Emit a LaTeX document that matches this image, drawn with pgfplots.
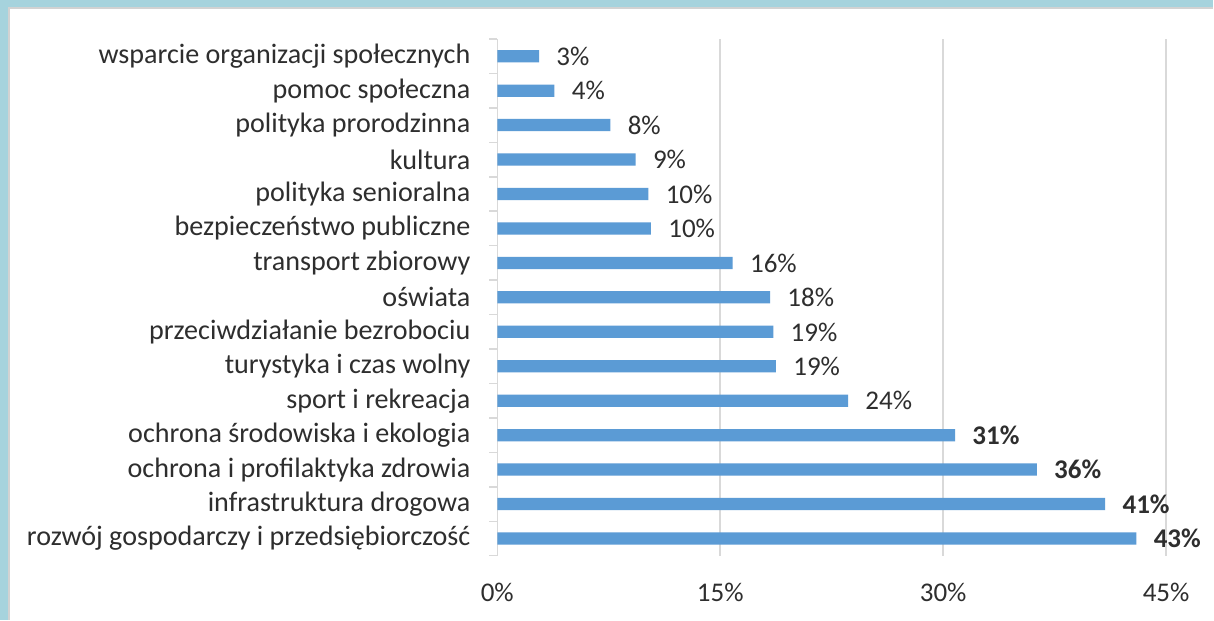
\documentclass[border=0pt]{standalone}
\usepackage{fontspec}
\setmainfont{Carlito}
\usepackage{pgfplots}
\pgfplotsset{compat=1.18}
\definecolor{barblue}{HTML}{5B9BD5}
\definecolor{txt}{HTML}{2E2E2E}
\definecolor{gridc}{HTML}{D9D9D9}
\definecolor{framec}{HTML}{A6D3DD}
\begin{document}
\begin{tikzpicture}
\fill[framec] (0pt,0pt) rectangle (607pt,310pt);
\fill[white] (4.5pt,0pt) rectangle (607pt,306pt);
\draw[gray!35, line width=0.6pt] (4.5pt,0pt) -- (4.5pt,306pt) -- (607pt,306pt);
\path[use as bounding box] (0pt,0pt) rectangle (607pt,310pt);
\begin{axis}[
  at={(248.75pt,32pt)}, anchor=south west,
  width=334.6pt, height=258.5pt, scale only axis,
  xmin=0, xmax=45, ymin=-0.5, ymax=14.5,
  xbar, bar width=6.15pt, clip=false,
  axis line style={draw=none},
  xtick={0,15,30,45}, xticklabels={0\%,15\%,30\%,45\%},
  xmajorgrids, grid style={gridc, line width=0.75pt},
  xtick style={draw=none},
  ytick={0,...,14},
  yticklabels={rozwój gospodarczy i przedsiębiorczość, infrastruktura drogowa, ochrona i profilaktyka zdrowia, ochrona środowiska i ekologia, sport i rekreacja, turystyka i czas wolny, przeciwdziałanie bezrobociu, oświata, transport zbiorowy, bezpieczeństwo publiczne, polityka senioralna, kultura, polityka prorodzinna, pomoc społeczna, wsparcie organizacji społecznych},
  minor ytick={-0.5,0.5,...,14.5},
  major tick length=0pt, minor tick length=4pt,
  tick align=outside, ytick pos=left,
  minor y tick style={gridc, line width=0.75pt},
  major y tick style={draw=none},
  every tick label/.append style={font=\fontsize{13.5}{16}\selectfont, text=txt},
  yticklabel style={inner sep=0pt, anchor=east, xshift=-13.25pt, font=\fontsize{14.05}{16}\selectfont},
  xticklabel style={inner sep=0pt, anchor=north, yshift=-13.5pt},
  nodes near coords, point meta=explicit symbolic,
  every node near coord/.append style={anchor=west, inner sep=0pt, xshift=8.5pt, font=\fontsize{13.5}{16}\selectfont, text=txt, text depth=0pt},
]
\addplot[fill=barblue, draw=none] coordinates {
  (43.0,0) [\textbf{43\%}]
  (40.9,1) [\textbf{41\%}]
  (36.3,2) [\textbf{36\%}]
  (30.8,3) [\textbf{31\%}]
  (23.6,4) [24\%]
  (18.75,5) [19\%]
  (18.57,6) [19\%]
  (18.35,7) [18\%]
  (15.84,8) [16\%]
  (10.34,9) [10\%]
  (10.17,10) [10\%]
  (9.31,11) [9\%]
  (7.61,12) [8\%]
  (3.85,13) [4\%]
  (2.81,14) [3\%]
};
\end{axis}
\end{tikzpicture}
\end{document}
